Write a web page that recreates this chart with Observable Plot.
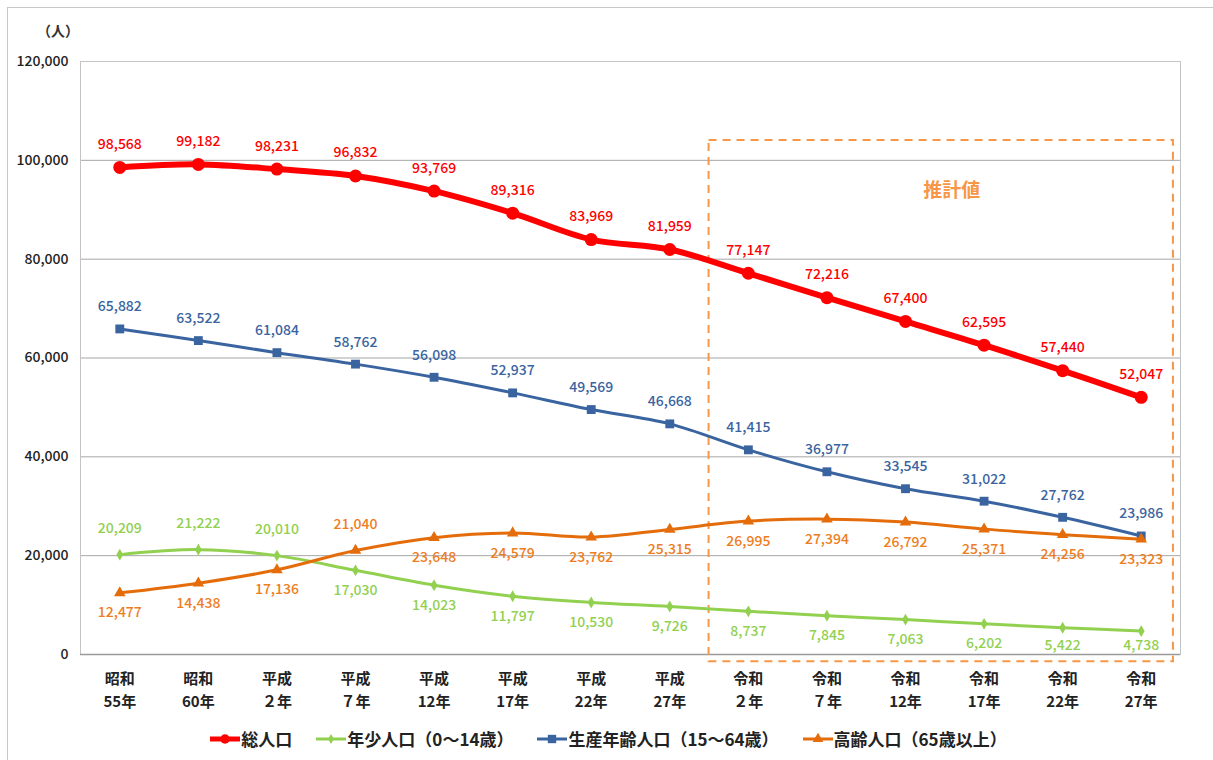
<!DOCTYPE html>
<html>
<head>
<meta charset="utf-8">
<script src="https://cdn.jsdelivr.net/npm/d3@7"></script>
<script src="https://cdn.jsdelivr.net/npm/@observablehq/plot@0.6"></script>
<style>
  html, body { margin: 0; padding: 0; background: #fff; }
  body { font-family: "Noto Sans CJK JP", "Noto Sans", sans-serif; }
  #wrap { position: relative; width: 1213px; height: 760px; overflow: hidden; }
  #frame { position: absolute; left: 7px; top: 7px; width: 1300px; height: 800px; border-top: 1px solid #c8c8c8; border-left: 1px solid #c8c8c8; }
  #unit { position: absolute; left: 37px; top: 20px; font-size: 14px; font-weight: 700; color: #333; }
  #chart { position: absolute; left: 0; top: 0; }
  #legend { position: absolute; left: 0; width: 1213px; top: 726px; display: flex; justify-content: center; gap: 24px; font-size: 17px; font-weight: 700; color: #222; padding-left: 4px; box-sizing: border-box; }
  #legend .item { display: flex; align-items: center; white-space: nowrap; }
  #legend svg { margin-right: 1px; }
</style>
</head>
<body>
<div id="wrap">
  <div id="frame"></div>
  <div id="chart"></div>
  <div id="unit">（人）</div>
  <div id="legend"></div>
</div>
<script>
// ---- data ----
const categories = ["昭和\n55年","昭和\n60年","平成\n２年","平成\n７年","平成\n12年","平成\n17年","平成\n22年","平成\n27年","令和\n２年","令和\n７年","令和\n12年","令和\n17年","令和\n22年","令和\n27年"];
const seriesNames = ["総人口", "年少人口（0～14歳）", "生産年齢人口（15～64歳）", "高齢人口（65歳以上）"];
const totalPop = [98568, 99182, 98231, 96832, 93769, 89316, 83969, 81959, 77147, 72216, 67400, 62595, 57440, 52047];
const youngPop = [20209, 21222, 20010, 17030, 14023, 11797, 10530, 9726, 8737, 7845, 7063, 6202, 5422, 4738];
const workingPop = [65882, 63522, 61084, 58762, 56098, 52937, 49569, 46668, 41415, 36977, 33545, 31022, 27762, 23986];
const elderlyPop = [12477, 14438, 17136, 21040, 23648, 24579, 23762, 25315, 26995, 27394, 26792, 25371, 24256, 23323];
const yTicks = [0, 20000, 40000, 60000, 80000, 100000, 120000];
const estimateLabel = "推計値";
const estimateStart = 8; // first projected category (令和２年)

// ---- styles ----
const colors = { total: "#ff0000", young: "#92d050", working: "#3a64a0", elderly: "#e46c0a" };
const labelColors = { total: "#ff0000", young: "#92d050", working: "#3a64a0", elderly: "#ee7d22" };
const boxColor = "#f79646";

const rows = (vals) => vals.map((v, i) => ({i, v}));
const total = rows(totalPop), young = rows(youngPop), working = rows(workingPop), elderly = rows(elderlyPop);
const fmt = d3.format(",");
const n = categories.length;

// keep data labels inside the plot area (like the spreadsheet does)
const clampInside = (dy) => (index, scales, values, dims, context, next) => {
  const bottom = dims.height - dims.marginBottom - 9 - dy;
  const y = Array.from(values.y, v => Math.min(v, bottom));
  return next(index, scales, {...values, y}, dims, context);
};

const labelFont = {fontSize: 14, fontFamily: "Noto Sans CJK JP", fontWeight: 500, text: d => fmt(d.v), x: "i", y: "v"};

const chart = Plot.plot({
  width: 1213,
  height: 712,
  marginLeft: 80,
  marginRight: 33,
  marginTop: 61,
  marginBottom: 58,
  x: {type: "linear", domain: [-0.5, n - 0.5]},
  y: {domain: [0, 120000]},
  style: {fontFamily: "Noto Sans CJK JP", background: "transparent"},
  marks: [
    Plot.gridY(yTicks, {stroke: "#a6a6a6", strokeOpacity: 1}),
    Plot.frame({stroke: "#c4c4c4"}),
    Plot.ruleY([0], {stroke: "#9a9a9a", strokeWidth: 1.5}),
    Plot.axisY(yTicks, {tickSize: 0, tickPadding: 12, tickFormat: fmt, fontSize: 14, fontWeight: 500, fill: "#222", label: null}),
    Plot.axisX(d3.range(n), {tickSize: 0, tickPadding: 13, tickFormat: i => categories[i], fontSize: 15, fontWeight: 700, fill: "#222", lineHeight: 1.55, label: null}),
    // estimate box
    Plot.rect([{x1: estimateStart - 0.5, x2: n - 0.5 - 0.09, y1: -1450, y2: 104000}], {x1: "x1", x2: "x2", y1: "y1", y2: "y2", fill: "none", stroke: boxColor, strokeWidth: 2, strokeDasharray: "8,6", clip: false}),
    Plot.text([{x: (estimateStart + n - 1) / 2 + 0.09, y: 93900}], {x: "x", y: "y", text: () => estimateLabel, fill: boxColor, fontSize: 19, fontWeight: 700}),
    // lines
    Plot.line(young, {x: "i", y: "v", stroke: colors.young, strokeWidth: 3, curve: "catmull-rom"}),
    Plot.dot(young, {x: "i", y: "v", fill: colors.young, symbol: "diamond", r: 3.6}),
    Plot.line(working, {x: "i", y: "v", stroke: colors.working, strokeWidth: 3, curve: "catmull-rom"}),
    Plot.dot(working, {x: "i", y: "v", fill: colors.working, symbol: "square", r: 5}),
    Plot.line(elderly, {x: "i", y: "v", stroke: colors.elderly, strokeWidth: 3, curve: "catmull-rom"}),
    Plot.dot(elderly, {x: "i", y: "v", fill: colors.elderly, symbol: "triangle", r: 4.3}),
    Plot.line(total, {x: "i", y: "v", stroke: colors.total, strokeWidth: 6, curve: "catmull-rom"}),
    Plot.dot(total, {x: "i", y: "v", fill: colors.total, r: 6.5}),
    // labels
    Plot.text(total, {...labelFont, fill: labelColors.total, dy: -23}),
    Plot.text(working, {...labelFont, fill: labelColors.working, dy: -22}),
    Plot.text(young, {...labelFont, fill: labelColors.young, filter: d => d.i < 3, dy: -26}),
    Plot.text(young, {...labelFont, fill: labelColors.young, filter: d => d.i >= 3, dy: 20, render: clampInside(20)}),
    Plot.text(elderly, {...labelFont, fill: labelColors.elderly, filter: d => d.i === 3, dy: -26}),
    Plot.text(elderly, {...labelFont, fill: labelColors.elderly, filter: d => d.i !== 3, dy: 20, render: clampInside(20)})
  ]
});
document.getElementById("chart").appendChild(chart);

// ---- legend ----
const legendItems = [
  {name: seriesNames[0], color: colors.total, sym: d3.symbolCircle, size: 70, w: 5},
  {name: seriesNames[1], color: colors.young, sym: d3.symbolDiamond, size: 30, w: 3},
  {name: seriesNames[2], color: colors.working, sym: d3.symbolSquare, size: 70, w: 3},
  {name: seriesNames[3], color: colors.elderly, sym: d3.symbolTriangle, size: 50, w: 3}
];
const legend = document.getElementById("legend");
for (const it of legendItems) {
  const div = document.createElement("div");
  div.className = "item";
  const svg = d3.create("svg").attr("width", 30).attr("height", 16);
  svg.append("line").attr("x1", 0).attr("x2", 30).attr("y1", 8).attr("y2", 8).attr("stroke", it.color).attr("stroke-width", it.w);
  svg.append("path").attr("d", d3.symbol(it.sym, it.size)()).attr("transform", "translate(15,8)").attr("fill", it.color);
  div.appendChild(svg.node());
  const span = document.createElement("span");
  span.textContent = it.name;
  div.appendChild(span);
  legend.appendChild(div);
}
</script>
</body>
</html>
